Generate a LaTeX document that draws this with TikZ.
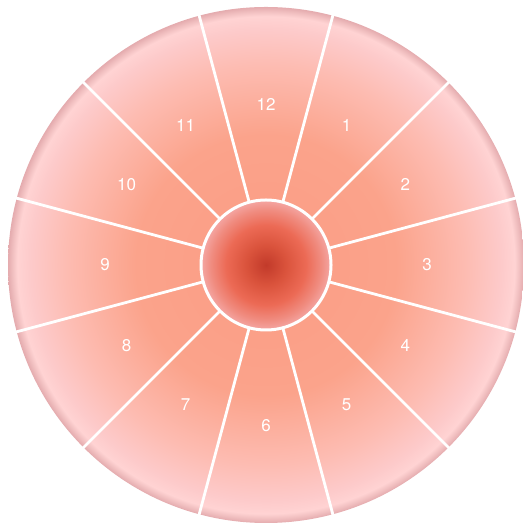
\documentclass[tikz,border=0pt]{standalone}
\usepackage{fontspec}
\setmainfont{TeX Gyre Heros}
\usetikzlibrary{calc}
\definecolor{oc0}{HTML}{FA9C84}
\definecolor{oc1}{HTML}{FBA38B}
\definecolor{oc2}{HTML}{FDBCB2}
\definecolor{oc3}{HTML}{FDCACA}
\definecolor{oc4}{HTML}{FFD3D3}
\definecolor{oc5}{HTML}{F0BEBF}
\definecolor{oc6}{HTML}{E4ABAE}
\definecolor{ic0}{HTML}{C23A2A}
\definecolor{ic1}{HTML}{DA533C}
\definecolor{ic2}{HTML}{EC6A55}
\definecolor{ic3}{HTML}{F08C80}
\definecolor{ic4}{HTML}{F4A4A0}
\pgfdeclareradialshading{outerdisk}{\pgfpoint{0bp}{0bp}}{%
  color(0bp)=(oc0); color(12.6bp)=(oc1); color(19.4bp)=(oc2);
  color(22.8bp)=(oc3); color(24.1bp)=(oc4); color(24.6bp)=(oc5);
  color(25bp)=(oc6); color(50bp)=(oc6)}
\pgfdeclareradialshading{innerdisk}{\pgfpoint{0bp}{0bp}}{%
  color(0bp)=(ic0); color(7.8bp)=(ic1); color(15.6bp)=(ic2);
  color(21.5bp)=(ic3); color(25bp)=(ic4); color(50bp)=(ic4)}
\tikzset{
  spoke/.style={white, line width=2.8pt},
  ring/.style={white, line width=3pt},
  lbl/.style={text=white, font=\fontsize{17}{17}\selectfont, inner sep=0pt}
}
\begin{document}
\begin{tikzpicture}[x=1pt,y=1pt]
\useasboundingbox (0,0) rectangle (522,526);
\coordinate (O) at (266,261);
\shade[shading=outerdisk] (O) circle[radius=258];
\foreach \k in {0,...,11}
  \draw[spoke] ($(O)+(75+30*\k:64)$) -- ($(O)+(75+30*\k:262)$);
\shade[shading=innerdisk] (O) circle[radius=64];
\draw[ring] (O) circle[radius=65];
\foreach \n in {1,...,12}
  \node[lbl] (l\n) at ($(O)+(90-30*\n:161)$) {\n};
\end{tikzpicture}
\end{document}
